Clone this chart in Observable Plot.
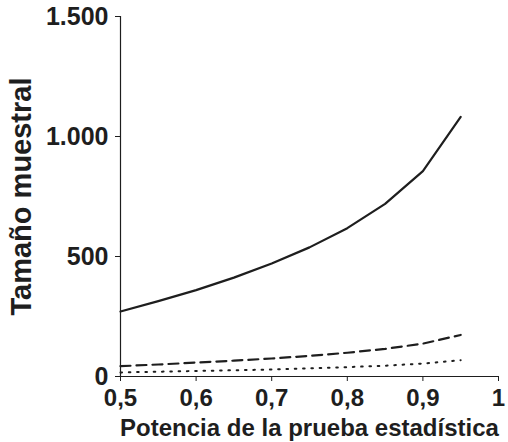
<!DOCTYPE html>
<html>
<head>
<meta charset="utf-8">
<script src="https://cdn.jsdelivr.net/npm/d3@7"></script>
<script src="https://cdn.jsdelivr.net/npm/@observablehq/plot@0.6"></script>
<style>
  html, body { margin: 0; padding: 0; background: #fff; }
  svg { display: block; }
</style>
</head>
<body>
<div id="chart"></div>
<script>
const power = [0.5, 0.55, 0.6, 0.65, 0.7, 0.75, 0.8, 0.85, 0.9, 0.95];
const solidN  = [271, 314, 360, 412, 471, 538, 618, 719, 856, 1082];
const dashedN = [43, 50, 58, 66, 75, 86, 99, 115, 137, 173];
const dottedN = [17, 20, 23, 26, 29, 34, 39, 45, 54, 68];
const yTicks = [0, 500, 1000, 1500];
const xTicks = [0.5, 0.6, 0.7, 0.8, 0.9, 1];
const xLabel = "Potencia de la prueba estadística";
const yLabel = "Tamaño muestral";

const mk = arr => power.map((p, i) => ({p, n: arr[i]}));
const ink = "#1e1e1e";
const font = "'Liberation Sans', Arial, sans-serif";

const chart = Plot.plot({
  width: 508,
  height: 442,
  marginLeft: 120,
  marginRight: 10,
  marginTop: 16,
  marginBottom: 66,
  style: {fontFamily: font, color: ink, background: "#fff"},
  x: {domain: [0.5, 1]},
  y: {domain: [0, 1500]},
  marks: [
    Plot.axisY(yTicks, {
      tickSize: 5, tickPadding: 7, fontSize: 25, fontWeight: "bold",
      stroke: ink, fill: ink, label: null,
      tickFormat: d => d3.format(",")(d).replace(/,/g, ".")
    }),
    Plot.axisX(xTicks, {
      tickSize: 5, tickPadding: 7, fontSize: 24, fontWeight: "bold",
      stroke: ink, fill: ink, label: null,
      tickFormat: d => String(d).replace(".", ",")
    }),
    Plot.ruleX([0.5], {stroke: ink, strokeWidth: 1.2}),
    Plot.ruleY([0], {stroke: ink, strokeWidth: 1.2}),
    Plot.line(mk(solidN), {x: "p", y: "n", stroke: ink, strokeWidth: 2.2}),
    Plot.line(mk(dashedN), {x: "p", y: "n", stroke: ink, strokeWidth: 2.2, strokeDasharray: "10,6"}),
    Plot.line(mk(dottedN), {x: "p", y: "n", stroke: ink, strokeWidth: 2, strokeDasharray: "1.6,6.7"}),
    Plot.text([yLabel], {frameAnchor: "left", textAnchor: "middle", lineAnchor: "middle", dx: -99, rotate: -90, fontSize: 29, fontWeight: "bold", fill: ink}),
    Plot.text([xLabel], {frameAnchor: "bottom", textAnchor: "middle", lineAnchor: "bottom", dy: 59, fontSize: 24, fontWeight: "bold", fill: ink})
  ]
});
document.getElementById("chart").append(chart);
</script>
</body>
</html>
